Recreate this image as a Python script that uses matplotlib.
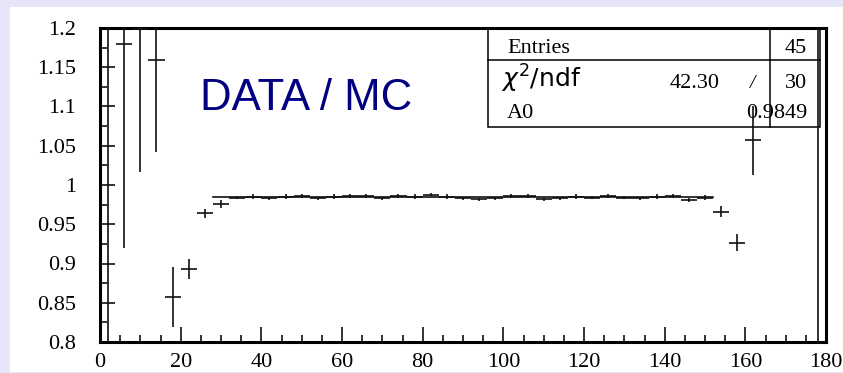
#DATA / MC ratio histogram with constant fit
import matplotlib.pyplot as plt
from matplotlib.patches import Rectangle
from matplotlib.ticker import MultipleLocator, FormatStrFormatter
import numpy as np

# bin centres (45 bins of width 4 between 0 and 180)
BIN_CENTERS = [2, 6, 10, 14, 18, 22, 26, 30, 34, 38, 42, 46, 50, 54, 58,
               62, 66, 70, 74, 78, 82, 86, 90, 94, 98, 102, 106, 110, 114, 118,
               122, 126, 130, 134, 138, 142, 146, 150, 154, 158, 162, 166, 170, 174, 178]
RATIO = [1.6, 1.18, 1.199, 1.159, 0.857, 0.893, 0.964, 0.9755, 0.984, 0.985,
         0.983, 0.985, 0.986, 0.983, 0.985, 0.986, 0.986, 0.983, 0.986, 0.985,
         0.9875, 0.985, 0.983, 0.982, 0.983, 0.986, 0.986, 0.982, 0.983, 0.985,
         0.984, 0.986, 0.984, 0.983, 0.985, 0.986, 0.981, 0.984, 0.966, 0.9265,
         1.057, 0.0, 0.0, 0.0, 0.5]
RATIO_ERR = [1.0, 0.26, 0.182, 0.117, 0.038, 0.013, 0.006, 0.005, 0.002, 0.003,
             0.002, 0.003, 0.002, 0.002, 0.003, 0.002, 0.002, 0.002, 0.002, 0.003,
             0.002, 0.003, 0.002, 0.002, 0.002, 0.002, 0.002, 0.002, 0.002, 0.003,
             0.002, 0.002, 0.002, 0.002, 0.003, 0.002, 0.003, 0.003, 0.0068, 0.011,
             0.044, 0.0, 0.0, 0.0, 0.8]
BIN_HALF_WIDTH = 2
FIT_A0 = 0.9849
FIT_RANGE = [28, 152]
STATS = [("Entries", "", "45"),
         (r"$\chi^2$/ndf", "42.30", "30"),
         ("A0", "", "0.9849")]

SERIF = "Liberation Serif"
LAVENDER = "#e6e6f8"
NAVY = "#000080"
INK = "#111111"


def main():
    fig = plt.figure(figsize=(8.43, 3.73), dpi=100)
    fig.patch.set_facecolor(LAVENDER)
    fig.patches.append(Rectangle((10 / 843, 1 / 373), 1, 1 - 8 / 373,
                                 transform=fig.transFigure, facecolor="white",
                                 edgecolor="none", zorder=-5))

    ax = fig.add_axes([100 / 843, 31 / 373, 726 / 843, 314 / 373])
    ax.set_zorder(1)
    ax.set_xlim(0, 180)
    ax.set_ylim(0.8, 1.2)

    ax.errorbar(BIN_CENTERS, RATIO, xerr=BIN_HALF_WIDTH, yerr=RATIO_ERR,
                fmt="none", ecolor=INK, elinewidth=1.2, capsize=0, zorder=3)
    ax.plot(FIT_RANGE, [FIT_A0, FIT_A0], color=INK, lw=1.2, zorder=3)

    for side in ["left", "bottom", "right", "top"]:
        ax.spines[side].set_linewidth(2.2)
    ax.xaxis.set_major_locator(MultipleLocator(20))
    ax.xaxis.set_minor_locator(MultipleLocator(5))
    ax.yaxis.set_major_locator(MultipleLocator(0.05))
    ax.yaxis.set_minor_locator(MultipleLocator(0.025))
    ax.yaxis.set_major_formatter(FormatStrFormatter("%g"))
    ax.tick_params(which="both", direction="in", width=1.2, color=INK)
    ax.tick_params(which="major", length=11)
    ax.tick_params(which="minor", length=5)
    ax.tick_params(axis="y", which="major", pad=17)
    ax.tick_params(axis="x", which="major", pad=8)
    for lab in ax.get_xticklabels() + ax.get_yticklabels():
        lab.set_fontfamily(SERIF)
        lab.set_fontsize(16)

    # stats box
    x0, x1, xc = 0.5344, 0.9917, 0.9229
    y0, ydiv = 0.6847, 0.898
    ax.add_patch(Rectangle((x0, y0), x1 - x0, 1 - y0, transform=ax.transAxes,
                           facecolor="white", edgecolor="black", lw=1.1, zorder=2))
    ax.plot([x0, x1], [ydiv, ydiv], transform=ax.transAxes, color="black", lw=1.1, zorder=2)
    ax.plot([xc, xc], [y0, 1], transform=ax.transAxes, color="black", lw=1.1, zorder=2)
    baselines = [0.920, 0.810, 0.713]
    for (name, mid, val), yb in zip(STATS, baselines):
        if name.startswith("$"):
            ax.text(0.553, yb, name, transform=ax.transAxes, fontsize=18,
                    family="DejaVu Sans", va="baseline", zorder=4)
        else:
            ax.text(0.5606, yb, name, transform=ax.transAxes, fontsize=16,
                    family=SERIF, va="baseline", zorder=4)
        if mid:
            ax.text(0.854, yb, mid, transform=ax.transAxes, fontsize=16,
                    family=SERIF, va="baseline", ha="right", zorder=4)
            ax.text(0.8994, yb, "/", transform=ax.transAxes, fontsize=14,
                    family=SERIF, va="baseline", ha="center", style="italic", zorder=4)
        ax.text(0.9738, yb, val, transform=ax.transAxes, fontsize=16,
                family=SERIF, va="baseline", ha="right", zorder=4)

    ax.text(0.1377, 0.739, "DATA / MC", transform=ax.transAxes, fontsize=31.5,
            family="Liberation Sans", color=NAVY, va="baseline", zorder=4)

    fig.savefig("out.png", dpi=100, facecolor=fig.get_facecolor())


if __name__ == "__main__":
    main()
